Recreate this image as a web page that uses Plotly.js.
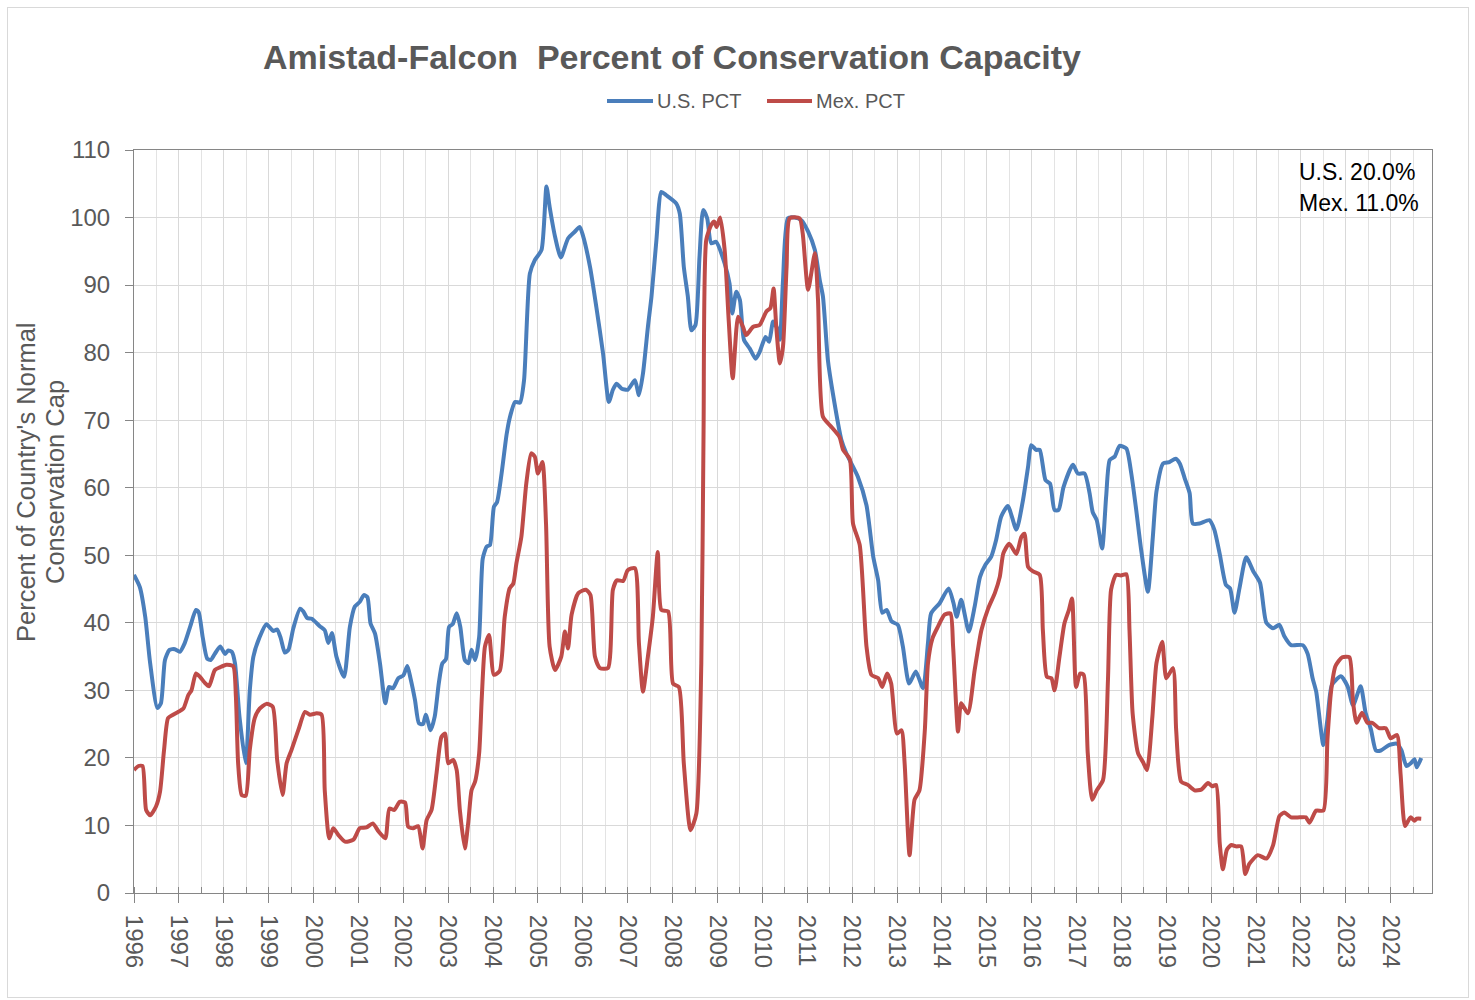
<!DOCTYPE html>
<html>
<head>
<meta charset="utf-8">
<script src="https://cdn.plot.ly/plotly-3.0.1.min.js"></script>
<style>
  html, body { margin: 0; padding: 0; background: #fff; }
  #wrap { position: relative; width: 1475px; height: 1000px; }
  #chart { width: 1475px; height: 1000px; }
  #frame { position: absolute; left: 7px; top: 7px; width: 1460px; height: 989px;
           border: 1px solid #d9d9d9; pointer-events: none; }
</style>
</head>
<body>
<div id="wrap"><div id="chart"></div><div id="frame"></div></div>
<script>
// Decimal-year positions and values
const usX = [1996.00,1996.13,1996.25,1996.36,1996.52,1996.60,1996.69,1996.79,1996.91,1997.02,1997.13,1997.25,1997.38,1997.44,1997.53,1997.63,1997.71,1997.80,1997.92,1998.03,1998.10,1998.18,1998.25,1998.35,1998.49,1998.58,1998.66,1998.80,1998.95,1999.10,1999.19,1999.27,1999.36,1999.44,1999.55,1999.70,1999.77,1999.86,1999.96,2000.14,2000.25,2000.33,2000.41,2000.51,2000.68,2000.81,2000.92,2001.03,2001.12,2001.20,2001.27,2001.37,2001.48,2001.60,2001.68,2001.77,2001.89,2002.00,2002.09,2002.16,2002.26,2002.35,2002.44,2002.50,2002.61,2002.70,2002.79,2002.87,2002.95,2003.02,2003.10,2003.19,2003.27,2003.37,2003.45,2003.52,2003.60,2003.69,2003.77,2003.86,2003.93,2004.02,2004.09,2004.19,2004.30,2004.37,2004.49,2004.60,2004.69,2004.82,2004.93,2005.08,2005.19,2005.26,2005.38,2005.51,2005.67,2005.82,2005.93,2006.00,2006.16,2006.30,2006.45,2006.58,2006.67,2006.75,2006.86,2007.00,2007.16,2007.25,2007.34,2007.45,2007.53,2007.64,2007.75,2007.86,2008.08,2008.16,2008.25,2008.34,2008.42,2008.51,2008.60,2008.68,2008.77,2008.86,2008.97,2009.16,2009.27,2009.33,2009.42,2009.50,2009.59,2009.72,2009.85,2009.94,2010.07,2010.15,2010.24,2010.33,2010.39,2010.46,2010.57,2010.72,2010.87,2011.02,2011.17,2011.28,2011.35,2011.46,2011.57,2011.76,2011.87,2012.13,2012.32,2012.47,2012.58,2012.67,2012.77,2012.88,2013.02,2013.13,2013.27,2013.42,2013.58,2013.69,2013.76,2013.95,2014.15,2014.26,2014.33,2014.43,2014.60,2014.73,2014.85,2014.97,2015.10,2015.21,2015.32,2015.47,2015.66,2015.80,2015.92,2015.99,2016.10,2016.18,2016.31,2016.41,2016.51,2016.60,2016.71,2016.92,2017.03,2017.18,2017.29,2017.36,2017.45,2017.57,2017.66,2017.74,2017.85,2017.96,2018.11,2018.22,2018.33,2018.44,2018.59,2018.70,2018.78,2018.93,2019.07,2019.21,2019.30,2019.41,2019.52,2019.59,2019.74,2019.96,2020.07,2020.19,2020.33,2020.42,2020.52,2020.63,2020.78,2020.94,2021.09,2021.23,2021.38,2021.52,2021.63,2021.78,2022.04,2022.15,2022.26,2022.34,2022.50,2022.59,2022.69,2022.89,2023.04,2023.16,2023.33,2023.44,2023.56,2023.67,2023.78,2023.96,2024.14,2024.24,2024.35,2024.46,2024.53,2024.58,2024.68];
const usPct = [47.1,45.3,40.9,34.0,27.4,28.1,34.5,36.0,36.1,35.7,37.0,39.4,41.9,41.6,37.9,34.7,34.5,35.4,36.5,35.4,35.9,35.7,34.0,26.1,19.2,30.0,35.0,37.9,39.8,38.8,39.0,37.7,35.6,36.0,39.2,42.1,41.7,40.7,40.6,39.5,38.9,37.0,38.5,35.0,32.0,39.4,42.4,43.1,44.1,43.8,39.9,38.4,34.0,28.1,30.5,30.3,31.8,32.2,33.6,31.8,28.6,25.1,25.0,26.4,24.1,26.1,31.0,34.0,34.6,39.4,39.8,41.4,39.4,34.5,34.0,36.0,34.5,37.9,49.5,51.3,51.5,57.2,57.9,62.1,67.8,70.3,72.7,72.6,75.9,91.7,93.7,95.2,104.6,101.6,97.2,94.1,96.9,97.9,98.6,97.4,92.7,86.8,79.9,72.7,74.5,75.4,74.7,74.5,75.9,73.7,76.9,83.8,88.3,96.7,103.8,103.3,102.1,100.6,92.7,88.3,83.3,84.1,94.2,101.1,99.9,96.2,96.4,93.2,90.2,85.8,89.0,87.8,81.9,80.6,79.1,80.1,82.3,81.6,84.6,83.6,81.9,90.7,99.9,100.0,99.6,97.9,95.2,90.7,88.3,78.9,74.0,67.1,65.1,61.6,57.4,49.8,46.3,41.5,41.9,40.2,39.7,36.5,31.0,32.8,30.3,37.0,41.4,42.9,45.1,42.9,40.9,43.4,38.7,42.4,46.8,48.6,49.8,52.3,55.7,57.3,53.8,57.9,63.1,66.3,65.6,65.6,61.1,60.6,56.7,56.7,60.1,63.4,62.1,62.1,59.2,56.4,55.2,51.0,58.7,64.1,64.6,66.2,65.8,62.1,56.7,50.8,44.6,52.7,59.4,63.6,63.8,64.3,63.6,61.4,59.2,54.7,54.7,55.2,53.8,50.2,45.6,45.1,41.5,45.1,49.7,47.6,45.9,40.0,39.2,39.7,38.0,36.7,36.7,35.4,31.8,29.8,21.9,25.7,30.8,32.1,30.6,27.8,30.6,26.7,24.2,21.1,21.1,21.9,22.1,21.1,18.8,19.3,19.8,18.6,20.0];

const mexX = [1996.00,1996.10,1996.19,1996.27,1996.36,1996.49,1996.58,1996.67,1996.76,1996.87,1996.98,1997.10,1997.21,1997.28,1997.38,1997.47,1997.58,1997.67,1997.80,1997.91,1998.06,1998.21,1998.27,1998.32,1998.40,1998.49,1998.58,1998.69,1998.80,1998.95,1999.09,1999.19,1999.31,1999.40,1999.51,1999.66,1999.81,1999.92,2000.07,2000.18,2000.25,2000.35,2000.44,2000.55,2000.70,2000.89,2001.03,2001.18,2001.32,2001.45,2001.60,2001.69,2001.80,2001.92,2002.04,2002.11,2002.22,2002.33,2002.43,2002.52,2002.63,2002.74,2002.85,2002.93,2003.00,2003.11,2003.19,2003.26,2003.37,2003.45,2003.52,2003.60,2003.69,2003.75,2003.82,2003.91,2004.02,2004.15,2004.26,2004.37,2004.45,2004.52,2004.63,2004.74,2004.85,2004.93,2005.00,2005.10,2005.18,2005.26,2005.38,2005.52,2005.60,2005.67,2005.75,2005.90,2006.07,2006.17,2006.27,2006.38,2006.56,2006.67,2006.76,2006.90,2007.00,2007.16,2007.25,2007.34,2007.45,2007.56,2007.67,2007.75,2007.90,2008.01,2008.14,2008.25,2008.40,2008.53,2008.64,2008.69,2008.75,2008.86,2008.93,2008.98,2009.06,2009.16,2009.25,2009.34,2009.46,2009.57,2009.64,2009.79,2009.94,2010.09,2010.18,2010.25,2010.31,2010.39,2010.46,2010.54,2010.61,2010.83,2010.90,2011.02,2011.17,2011.24,2011.35,2011.54,2011.72,2011.80,2011.95,2012.02,2012.17,2012.32,2012.43,2012.58,2012.67,2012.78,2012.87,2013.00,2013.10,2013.17,2013.28,2013.39,2013.50,2013.62,2013.69,2013.79,2013.91,2014.06,2014.19,2014.25,2014.36,2014.43,2014.58,2014.73,2014.88,2015.03,2015.18,2015.29,2015.37,2015.50,2015.66,2015.77,2015.84,2015.92,2016.03,2016.18,2016.25,2016.34,2016.44,2016.51,2016.62,2016.73,2016.83,2016.90,2016.99,2017.08,2017.16,2017.25,2017.35,2017.45,2017.59,2017.70,2017.77,2017.88,2017.99,2018.11,2018.18,2018.25,2018.37,2018.48,2018.57,2018.69,2018.78,2018.91,2019.00,2019.15,2019.22,2019.33,2019.48,2019.63,2019.78,2019.93,2020.02,2020.11,2020.19,2020.26,2020.35,2020.45,2020.56,2020.67,2020.76,2020.85,2021.04,2021.23,2021.38,2021.52,2021.63,2021.78,2021.97,2022.11,2022.19,2022.34,2022.50,2022.59,2022.67,2022.77,2022.92,2023.08,2023.16,2023.24,2023.36,2023.48,2023.59,2023.74,2023.89,2024.00,2024.14,2024.22,2024.32,2024.44,2024.53,2024.58,2024.68];
const mexPct = [18.2,18.8,18.8,12.3,11.5,12.8,15.0,21.2,25.9,26.4,26.8,27.3,29.3,30.0,32.5,32.0,31.1,30.6,33.0,33.4,33.8,33.6,29.1,19.2,14.5,14.4,21.2,25.9,27.3,28.0,27.6,19.7,14.5,19.2,21.2,24.1,26.8,26.4,26.6,26.4,15.2,8.1,9.6,8.6,7.6,7.9,9.6,9.7,10.3,9.1,8.1,12.5,12.3,13.5,13.4,9.8,9.6,9.9,6.6,10.8,12.3,17.7,23.1,23.6,19.2,19.7,18.2,12.3,6.6,10.6,15.2,16.5,20.7,29.1,36.5,38.2,32.3,32.9,40.9,45.1,45.8,48.8,52.7,60.6,65.1,64.6,62.1,63.8,54.7,36.5,33.0,35.0,38.7,36.2,41.2,44.4,44.9,44.1,35.0,33.3,33.3,44.9,46.3,46.2,47.8,48.1,37.0,29.8,35.0,40.9,50.5,41.9,41.7,31.0,30.5,19.2,9.3,11.8,34.0,68.5,96.7,98.9,99.4,98.6,100.0,95.2,84.8,76.2,85.3,83.8,82.6,83.8,84.1,86.1,86.6,89.5,83.8,78.4,80.9,92.7,99.9,99.9,97.6,89.3,94.7,87.8,70.5,69.0,67.5,65.6,64.2,54.7,51.5,36.5,32.3,31.8,30.5,32.5,31.0,23.6,24.1,19.2,5.6,13.8,15.2,24.1,34.0,37.7,39.4,41.2,41.4,36.5,23.9,28.1,26.6,33.0,38.9,42.1,44.4,46.8,50.3,51.7,50.2,52.7,53.2,48.3,47.6,47.1,38.9,32.0,31.8,30.0,35.0,39.9,41.9,43.6,30.5,32.5,32.3,20.7,13.8,15.2,16.7,31.5,44.9,47.1,47.0,47.2,38.9,26.6,20.7,19.4,18.2,26.1,34.0,37.2,31.8,33.3,24.1,16.5,16.0,15.2,15.3,16.3,15.8,16.0,7.4,3.5,6.4,7.1,6.9,6.9,2.8,4.3,5.6,5.1,7.1,11.4,11.9,11.2,11.2,11.2,10.4,12.2,12.2,22.7,29.8,33.6,34.9,34.9,28.3,25.2,26.7,25.2,25.2,24.4,24.4,22.9,23.4,17.6,9.9,11.2,10.7,11.0,11.0];

const seriesNames = ["U.S. PCT", "Mex. PCT"];
const seriesColors = ["#4A7EBB", "#BE4B48"];
const yTicks = [0,10,20,30,40,50,60,70,80,90,100,110];
const xTickYears = [1996,1997,1998,1999,2000,2001,2002,2003,2004,2005,2006,2007,2008,2009,2010,2011,2012,2013,2014,2015,2016,2017,2018,2019,2020,2021,2022,2023,2024];
const yTitleLines = ["Percent of Country's Normal", "Conservation Cap"];

const FONT = "Liberation Sans, Arial, sans-serif";
const GREY = "#595959";

// plot-area pixel box: left 134, right 1432, top 150, bottom 893
const PL = 134, PW = 1298, PB = 893, PH = 743;
const px = v => (v - PL) / PW;
const py = v => (PB - v) / PH;

const traces = [
  { x: usX, y: usPct, name: seriesNames[0], type: "scatter", mode: "lines",
    line: { color: seriesColors[0], width: 4, shape: "spline", smoothing: 0.6 } },
  { x: mexX, y: mexPct, name: seriesNames[1], type: "scatter", mode: "lines",
    line: { color: seriesColors[1], width: 4, shape: "spline", smoothing: 0.6 } }
];

const lastUS = usPct[usPct.length - 1].toFixed(1);
const lastMex = mexPct[mexPct.length - 1].toFixed(1);

// custom legend (long line samples like the reference)
const legendItems = [
  { x0: 607, x1: 653, tx: 655 },
  { x0: 767, x1: 812, tx: 814 }
];
const shapes = legendItems.map((it, i) => ({
  type: "line", xref: "paper", yref: "paper",
  x0: px(it.x0), x1: px(it.x1), y0: py(101), y1: py(101),
  line: { color: seriesColors[i], width: 4 }
}));
const annotations = legendItems.map((it, i) => ({
  xref: "paper", yref: "paper", x: px(it.tx), y: py(101),
  xanchor: "left", yanchor: "middle", showarrow: false,
  text: seriesNames[i], font: { family: FONT, size: 20, color: GREY }
}));

// y-axis title, two centred lines
annotations.push(
  { xref: "paper", yref: "paper", x: px(26), y: py(482), xanchor: "center", yanchor: "middle",
    textangle: -90, showarrow: false, text: yTitleLines[0],
    font: { family: FONT, size: 25.5, color: GREY } },
  { xref: "paper", yref: "paper", x: px(55), y: py(482), xanchor: "center", yanchor: "middle",
    textangle: -90, showarrow: false, text: yTitleLines[1],
    font: { family: FONT, size: 25.5, color: GREY } }
);

// current values box
annotations.push(
  { xref: "paper", yref: "paper", x: px(1297), y: py(172), xanchor: "left", yanchor: "middle",
    showarrow: false, text: "U.S. " + lastUS + "%", font: { family: FONT, size: 23, color: "#000000" } },
  { xref: "paper", yref: "paper", x: px(1297), y: py(203), xanchor: "left", yanchor: "middle",
    showarrow: false, text: "Mex. " + lastMex + "%", font: { family: FONT, size: 23, color: "#000000" } }
);

const layout = {
  width: 1475, height: 1000,
  paper_bgcolor: "#ffffff", plot_bgcolor: "#ffffff",
  margin: { l: PL, r: 1475 - PL - PW, t: 150, b: 1000 - PB },
  font: { family: FONT, color: GREY },
  title: {
    text: "<b>Amistad-Falcon\u00a0 Percent of Conservation Capacity</b>",
    font: { family: FONT, size: 34, color: GREY },
    xref: "container", yref: "container",
    x: 672 / 1475, xanchor: "center", y: 1 - 57 / 1000, yanchor: "middle"
  },
  showlegend: false,
  xaxis: {
    type: "linear", range: [1996, 2024.92],
    tickmode: "array", tickvals: xTickYears, ticktext: xTickYears.map(String),
    tickangle: 90,
    tickfont: { family: FONT, size: 24, color: GREY },
    ticks: "outside", ticklen: 9, tickcolor: "#868686", tickwidth: 1,
    ticklabelstandoff: 7,
    showgrid: true, gridcolor: "#d9d9d9", gridwidth: 1,
    minor: { dtick: 0.5, tick0: 1996, ticks: "inside", ticklen: 6, tickcolor: "#868686",
             showgrid: true, gridcolor: "#e3e3e3", gridwidth: 1 },
    showline: true, linecolor: "#868686", linewidth: 1, mirror: true,
    zeroline: false, fixedrange: true
  },
  yaxis: {
    range: [0, 110],
    tickmode: "array", tickvals: yTicks, ticktext: yTicks.map(String),
    tickfont: { family: FONT, size: 24, color: GREY },
    ticks: "outside", ticklen: 8, tickcolor: "#868686", tickwidth: 1,
    ticklabelstandoff: 10,
    showgrid: true, gridcolor: "#d9d9d9", gridwidth: 1,
    showline: true, linecolor: "#868686", linewidth: 1, mirror: true,
    zeroline: false, fixedrange: true
  },
  shapes: shapes,
  annotations: annotations
};

Plotly.newPlot("chart", traces, layout, { staticPlot: true, displayModeBar: false });
</script>
</body>
</html>
